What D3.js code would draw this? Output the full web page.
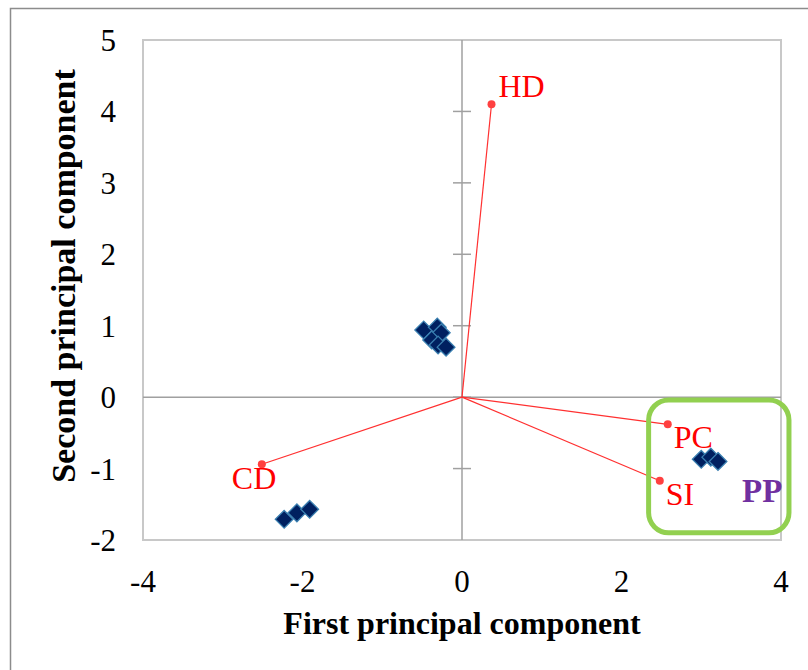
<!DOCTYPE html>
<html><head><meta charset="utf-8">
<script src="https://cdn.jsdelivr.net/npm/d3@7"></script>
<style>body{margin:0;background:#fff}svg{display:block}</style>
</head><body>
<svg id="c" width="808" height="670"></svg>
<script>
// Data
const xTicks = [-4, -2, 0, 2, 4];
const yTicks = [-2, -1, 0, 1, 2, 3, 4, 5];
const loadingNames = ["HD", "PC", "SI", "CD"];
const loadingX = [0.37, 2.58, 2.48, -2.51];
const loadingY = [4.10, -0.38, -1.17, -0.94];
const scoreX = [-0.48, -0.31, -0.26, -0.38, -0.30, -0.20, -2.23, -2.07, -1.91, 3.00, 3.12, 3.21];
const scoreY = [0.94, 0.98, 0.90, 0.80, 0.73, 0.70, -1.71, -1.62, -1.57, -0.87, -0.84, -0.90];
const groupLabel = "PP";
const groupBoxX = [2.34, 4.1];
const groupBoxY = [-1.9, -0.04];

const svg = d3.select("#c");
const x = d3.scaleLinear().domain([-4, 4]).range([143, 781]);
const y = d3.scaleLinear().domain([-2, 5]).range([540, 40]);
const serif = "'Liberation Serif','Times New Roman',serif";

// outer border
svg.append("path").attr("d", "M10.5,670 L10.5,8.5 L808,8.5").attr("fill", "none").attr("stroke", "#8c8c8c").attr("stroke-width", 1.5);

// plot area
svg.append("rect").attr("x", x(-4)).attr("y", y(5)).attr("width", x(4) - x(-4)).attr("height", y(-2) - y(5))
  .attr("fill", "#fff").attr("stroke", "#c8c8c8").attr("stroke-width", 2);

// axes through origin
svg.append("line").attr("x1", x(-4)).attr("x2", x(4)).attr("y1", y(0)).attr("y2", y(0)).attr("stroke", "#a0a0a0").attr("stroke-width", 1.5);
svg.append("line").attr("x1", x(0)).attr("x2", x(0)).attr("y1", y(5)).attr("y2", y(-2)).attr("stroke", "#a0a0a0").attr("stroke-width", 1.5);
svg.selectAll(".yt").data(yTicks.filter(d => d > -2 && d < 5)).enter().append("line")
  .attr("x1", x(0) - 9).attr("x2", x(0) + 9).attr("y1", d => y(d)).attr("y2", d => y(d))
  .attr("stroke", "#a0a0a0").attr("stroke-width", 1.5);

// tick labels
svg.selectAll(".ytl").data(yTicks).enter().append("text")
  .attr("x", 116).attr("y", d => y(d) + 11).attr("text-anchor", "end")
  .attr("font-family", serif).attr("font-size", 31).attr("fill", "#000")
  .text(d => d);
svg.selectAll(".xtl").data(xTicks).enter().append("text")
  .attr("x", d => x(d)).attr("y", 592).attr("text-anchor", "middle")
  .attr("font-family", serif).attr("font-size", 31).attr("fill", "#000")
  .text(d => d);

// axis titles
svg.append("text").attr("x", x(0)).attr("y", 634).attr("text-anchor", "middle")
  .attr("font-family", serif).attr("font-size", 32).attr("font-weight", "bold").text("First principal component");
svg.append("text").attr("transform", "translate(75,276) rotate(-90)").attr("text-anchor", "middle")
  .attr("font-family", serif).attr("font-size", 34).attr("font-weight", "bold").text("Second principal component");

// loadings
const loadings = loadingNames.map((n, i) => ({n, x: loadingX[i], y: loadingY[i]}));
svg.selectAll(".ll").data(loadings).enter().append("line")
  .attr("x1", x(0)).attr("y1", y(0)).attr("x2", d => x(d.x)).attr("y2", d => y(d.y))
  .attr("stroke", "#ff3030").attr("stroke-width", 1.2);
svg.selectAll(".lp").data(loadings).enter().append("circle")
  .attr("cx", d => x(d.x)).attr("cy", d => y(d.y)).attr("r", 4).attr("fill", "#ff4040");
const labOff = {HD: [7, -7], PC: [6, 24], SI: [6, 24], CD: [-30, 25]};
svg.selectAll(".lt").data(loadings).enter().append("text")
  .attr("x", d => x(d.x) + labOff[d.n][0]).attr("y", d => y(d.y) + labOff[d.n][1])
  .attr("font-family", serif).attr("font-size", 32).attr("fill", "#ff0000").text(d => d.n);

// group box
svg.append("rect").attr("x", x(groupBoxX[0])).attr("y", y(groupBoxY[1]))
  .attr("width", x(groupBoxX[1]) - x(groupBoxX[0])).attr("height", y(groupBoxY[0]) - y(groupBoxY[1]))
  .attr("rx", 20).attr("ry", 20).attr("fill", "none").attr("stroke", "#92d050").attr("stroke-width", 5);
svg.append("text").attr("x", 742).attr("y", 502)
  .attr("font-family", serif).attr("font-size", 33).attr("font-weight", "bold").attr("fill", "#7030a0").text(groupLabel);

// scores
const scores = scoreX.map((v, i) => ({x: v, y: scoreY[i]}));
svg.selectAll(".sc").data(scores).enter().append("path")
  .attr("d", d3.symbol().type(d3.symbolDiamond2).size(200)())
  .attr("transform", d => `translate(${x(d.x)},${y(d.y)})`)
  .attr("fill", "#002060").attr("stroke", "#3a7fb0").attr("stroke-width", 1.3);
</script>
</body></html>
